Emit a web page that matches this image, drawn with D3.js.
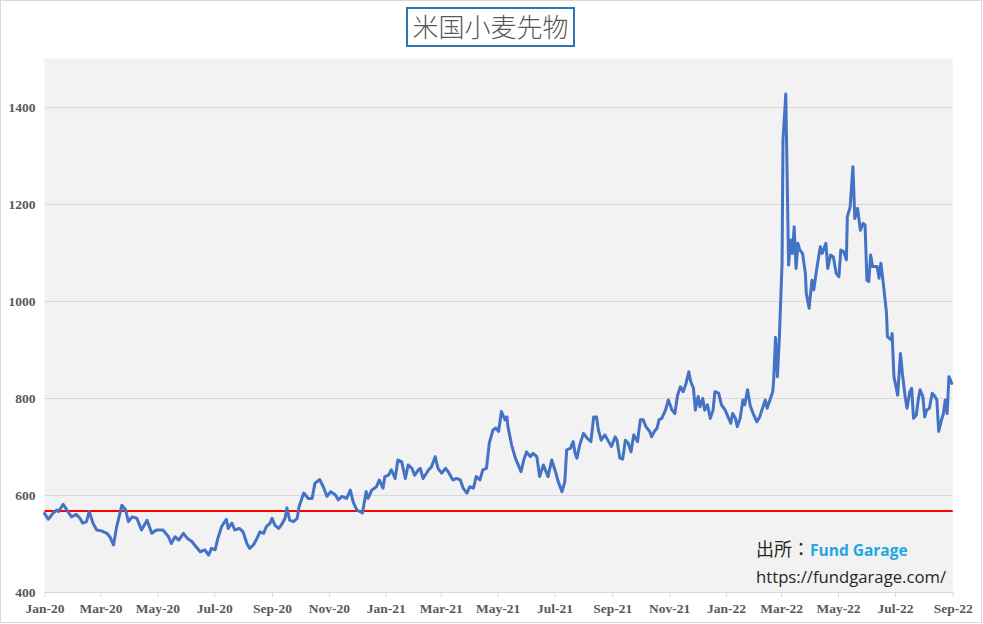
<!DOCTYPE html>
<html><head><meta charset="utf-8">
<script src="https://cdn.jsdelivr.net/npm/d3@7"></script>
<style>body{margin:0;background:#fff}svg{display:block}</style>
</head><body>
<svg id="chart" width="983" height="624"></svg>
<script>
const titleText = "米国小麦先物";
const startDate = "2020-01-01";
const endDate = "2022-09-01";
const dayOffsets = [0,4,9,13,15,20,24,29,34,38,41,45,48,52,56,61,67,70,74,77,83,87,90,94,99,104,110,115,120,127,133,136,140,144,149,153,158,161,167,172,176,179,183,186,190,195,197,201,204,209,213,217,220,224,228,231,235,238,242,244,247,251,254,258,260,263,267,271,273,278,283,287,290,295,299,303,307,312,315,319,324,328,331,335,338,341,345,347,351,356,359,363,365,369,372,376,379,383,387,390,394,397,401,403,406,412,415,419,422,426,430,433,438,442,446,449,453,456,460,463,467,470,474,477,481,484,487,490,494,496,497,501,505,508,511,514,517,521,524,528,531,535,540,544,548,551,555,558,560,564,567,569,571,574,578,582,586,589,592,594,597,601,605,608,612,614,617,620,623,626,629,632,636,639,642,645,649,651,654,657,659,662,666,669,673,676,679,682,685,688,691,693,696,698,701,703,706,708,711,714,717,719,723,726,730,733,736,738,741,743,746,749,751,754,757,760,764,767,770,773,775,778,781,782,784,786,788,791,792,795,798,800,802,804,806,808,810,813,816,817,820,823,825,828,832,834,838,840,843,846,849,852,854,857,860,861,864,867,869,872,875,878,880,882,884,886,888,893,895,897,900,903,904,908,909,911,915,918,920,923,925,928,930,932,935,937,939,942,944,946,949,952,955,957,959,962,964,966,968,970,973];
const prices = [562,550,562,569,566,581,569,555,560,552,542,545,566,542,528,526,521,514,497,531,579,569,545,555,552,528,548,521,528,528,514,500,514,507,521,511,504,497,483,487,476,490,487,511,535,550,531,542,528,531,524,500,490,497,511,524,521,535,542,552,538,531,538,552,573,548,545,552,576,604,593,593,624,632,617,597,607,600,590,597,593,610,586,569,566,563,607,593,610,617,631,614,638,641,652,634,672,669,634,662,655,641,652,655,634,652,658,679,655,645,655,648,631,634,631,614,604,617,614,638,631,652,655,707,734,738,731,772,755,761,741,703,676,662,648,672,689,679,686,679,638,662,638,672,648,627,607,627,693,696,710,686,676,703,727,717,710,761,761,734,713,724,710,700,720,713,676,674,713,707,689,724,710,755,755,741,731,720,731,738,755,758,775,796,775,768,806,823,813,830,854,834,820,775,803,782,799,775,786,758,775,813,810,786,775,761,748,768,758,741,758,796,786,817,783,768,751,761,779,796,779,796,813,837,925,844,920,1078,1332,1427,1074,1126,1098,1153,1067,1119,1105,1098,1057,1016,985,1043,1023,1064,1112,1098,1119,1067,1095,1091,1057,1050,1105,1102,1085,1174,1194,1277,1170,1191,1146,1160,1157,1043,1040,1095,1071,1071,1047,1078,1029,975,926,920,933,844,806,892,851,803,779,813,820,758,765,796,817,803,761,775,779,810,803,796,731,755,768,796,768,844,830];
const referenceLevel = [567];
const yTicks = [400,600,800,1000,1200,1400];
const yDomain = [400,1500];
const sourceLabel = "出所：";
const sourceName = "Fund Garage";
const sourceUrl = "https://fundgarage.com/";

const svg = d3.select("#chart");
const W = 983, H = 624;
const plot = {left:44.5, right:952.7, top:58.5, bottom:592};

svg.append("rect").attr("x",0.5).attr("y",0.5).attr("width",W-2).attr("height",H-2)
  .attr("fill","#fff").attr("stroke","#d9d9d9");

const parse = d3.utcParse("%Y-%m-%d");
const t0 = parse(startDate), t1 = parse(endDate);
const data = dayOffsets.map((d,i)=>({date:d3.utcDay.offset(t0,d), value:prices[i]}));

const x = d3.scaleUtc().domain([t0,t1]).range([plot.left,plot.right]);
const y = d3.scaleLinear().domain(yDomain).range([plot.bottom,plot.top]);

svg.append("rect").attr("x",plot.left).attr("y",plot.top)
  .attr("width",plot.right-plot.left).attr("height",plot.bottom-plot.top).attr("fill","#f2f2f2");

// gridlines
svg.append("g").selectAll("line").data(yTicks.filter(v=>v>yDomain[0])).join("line")
  .attr("x1",plot.left).attr("x2",plot.right)
  .attr("y1",d=>Math.round(y(d))+0.5).attr("y2",d=>Math.round(y(d))+0.5)
  .attr("stroke","#d9d9d9").attr("stroke-width",1);

// y axis labels
const yAxis = d3.axisLeft(y).tickValues(yTicks).tickFormat(d3.format("d")).tickSize(0).tickPadding(9);
const gy = svg.append("g").attr("transform",`translate(${plot.left},0)`).call(yAxis);
gy.select(".domain").remove();
gy.selectAll("text").attr("font-family","'Liberation Serif', serif").attr("font-weight","bold")
  .attr("font-size",13.5).attr("fill","#595959");

// x axis
const xAxis = d3.axisBottom(x).ticks(d3.utcMonth.every(2)).tickFormat(d3.utcFormat("%b-%y"))
  .tickSizeInner(5).tickSizeOuter(0).tickPadding(6);
const gx = svg.append("g").attr("transform",`translate(0,${plot.bottom})`).call(xAxis);
gx.select(".domain").attr("stroke","#d9d9d9");
gx.selectAll(".tick line").attr("stroke","#d9d9d9");
gx.selectAll("text").attr("font-family","'Liberation Serif', serif").attr("font-weight","bold")
  .attr("font-size",13.5).attr("fill","#595959");

// reference line
svg.append("path")
  .datum([{date:t0,value:referenceLevel[0]},{date:t1,value:referenceLevel[0]}])
  .attr("d",d3.line().x(d=>x(d.date)).y(d=>y(d.value)))
  .attr("fill","none").attr("stroke","#ff0000").attr("stroke-width",2);

// price line
svg.append("path").datum(data)
  .attr("d",d3.line().x(d=>x(d.date)).y(d=>y(d.value)))
  .attr("fill","none").attr("stroke","#4472c4").attr("stroke-width",3)
  .attr("stroke-linejoin","round").attr("stroke-linecap","round");

// title
svg.append("rect").attr("x",407).attr("y",8).attr("width",167).attr("height",38)
  .attr("fill","#fff").attr("stroke","#2e75b6").attr("stroke-width",2);
svg.append("text").attr("x",490.5).attr("y",37).attr("text-anchor","middle")
  .attr("font-family","'Noto Sans CJK JP', sans-serif").attr("font-weight",300)
  .attr("font-size",26).attr("fill","#595959").text(titleText);

// source
const src = svg.append("text").attr("x",756).attr("y",556)
  .attr("font-family","'Noto Sans CJK JP', 'Open Sans', sans-serif").attr("font-size",18).attr("fill","#262626");
src.append("tspan").text(sourceLabel);
src.append("tspan").attr("font-family","'Open Sans', sans-serif").attr("font-weight","bold").attr("font-size",15.5)
  .attr("fill","#1fa7e1").text(sourceName);
svg.append("text").attr("x",756).attr("y",583)
  .attr("font-family","'Open Sans', sans-serif").attr("font-size",16.7).attr("fill","#262626").text(sourceUrl);
</script>
</body></html>
